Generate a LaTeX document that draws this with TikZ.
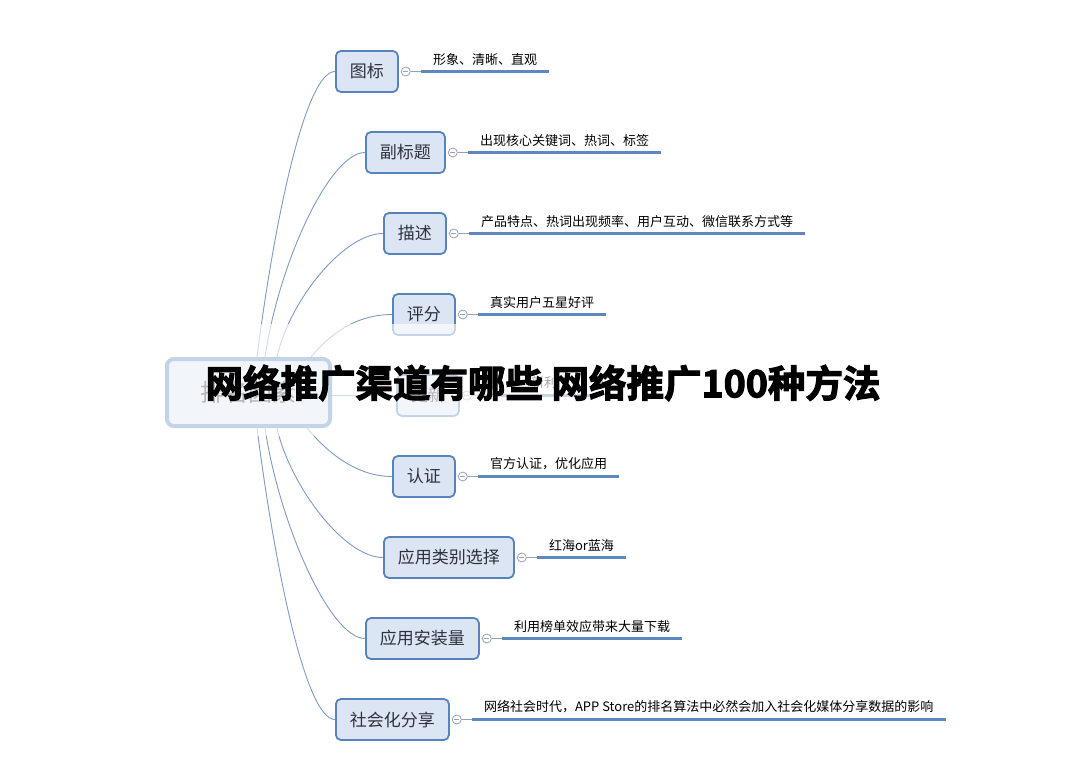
\documentclass[tikz,border=0pt]{standalone}
\usepackage{fontspec}
\setmainfont{Noto Sans CJK SC}
\newfontfamily\titlefont[FakeBold=3]{Noto Sans CJK SC Bold}
\definecolor{boxfill}{RGB}{219,229,243}
\definecolor{boxline}{RGB}{88,132,190}
\definecolor{branchc}{RGB}{125,155,195}
\definecolor{barc}{RGB}{92,136,190}
\definecolor{knobc}{RGB}{150,162,180}
\definecolor{ink}{RGB}{45,50,60}
\begin{document}
\begin{tikzpicture}[x=1pt,y=-1pt,
  topic/.style={draw=boxline, line width=1.8pt, fill=boxfill, rounded corners=5pt,
    minimum height=41pt, inner xsep=14pt, inner ysep=0pt,
    font=\fontsize{17}{17}\selectfont, text=ink, anchor=west},
  rootbox/.style={draw=boxline, line width=4pt, fill=boxfill, rounded corners=7pt,
    minimum width=163pt, minimum height=67pt, font=\fontsize{24}{24}\selectfont, text=ink},
  knob/.style={circle, draw=knobc, line width=0.8pt, fill=white, minimum size=9pt, inner sep=0pt,
    path picture={\draw[knobc, line width=0.8pt]
      ([xshift=-2.5pt]path picture bounding box.center) -- ([xshift=2.5pt]path picture bounding box.center);}},
  detail/.style={anchor=south west, inner xsep=12pt, inner ysep=6pt,
    font=\fontsize{13}{13}\selectfont, text=black},
  bar/.style={draw=barc, line width=3pt},
  branch/.style={draw=branchc, line width=0.9pt},
  stem/.style={draw=knobc, line width=0.8pt}]

\useasboundingbox (0,0) rectangle (1084,770);

% central topic
\node[rootbox] (root) at (248.5,392.5) {排名因素};

% main topics
\node[topic] (n1) at (335,71.5)  {图标};
\node[topic] (n2) at (365,152.5) {副标题};
\node[topic] (n3) at (383,233.5) {描述};
\node[topic] (n4) at (392,314.5) {评分};
\node[topic] (n5) at (396,395.5) {更新};
\node[topic] (n6) at (392,476.5) {认证};
\node[topic] (n7) at (383,557.5) {应用类别选择};
\node[topic] (n8) at (365,638.5) {应用安装量};
\node[topic] (n9) at (335,719.5) {社会化分享};

% branches from the central topic
\draw[branch] ([xshift=92pt]root.north west)  .. controls +(17,-133) and +(-30,0) .. (n1.west);
\draw[branch] ([xshift=100pt]root.north west) .. controls +(14,-95) and +(-35,0) .. (n2.west);
\draw[branch] ([xshift=112pt]root.north west) .. controls +(12,-55) and +(-40,0) .. (n3.west);
\draw[branch] ([xshift=146pt]root.north west) .. controls +(15,-18) and +(-40,0) .. (n4.west);
\draw[branch] (root.east |- n5.west) -- (n5.west);
\draw[branch] ([xshift=142pt]root.south west) .. controls +(15,18) and +(-40,0) .. (n6.west);
\draw[branch] ([xshift=112pt]root.south west) .. controls +(12,55) and +(-40,0) .. (n7.west);
\draw[branch] ([xshift=100pt]root.south west) .. controls +(14,95) and +(-35,0) .. (n8.west);
\draw[branch] ([xshift=92pt]root.south west)  .. controls +(17,133) and +(-30,0) .. (n9.west);

% collapse knobs and details
\foreach \i/\txt in {1/形象、清晰、直观,
                     2/出现核心关键词、热词、标签,
                     3/产品特点、热词出现频率、用户互动、微信联系方式等,
                     4/真实用户五星好评,
                     6/官方认证，优化应用,
                     7/红海or蓝海,
                     8/利用榜单效应带来大量下载,
                     9/网络社会时代，APP Store的排名算法中必然会加入社会化媒体分享数据的影响}{
  \node[knob] (k\i) at ([xshift=7pt]n\i.east) {};
  \node[detail] (d\i) at ([xshift=15pt]k\i.center) {\txt};
  \draw[stem] (k\i.east) -- (d\i.south west);
  \draw[bar] (d\i.south west) -- (d\i.south east);
}
\node[knob] (k5) at ([xshift=7pt]n5.east) {};
\node[detail, minimum width=117pt] (d5) at ([xshift=15pt]k5.center) {};
\node[font=\fontsize{13}{13}\selectfont] (d5t) at (544,383) {新利};
\draw[stem] (k5.east) -- (d5.south west);
\draw[bar] (d5.south west) -- (d5.south east);

% washed band behind the headline
\fill[white, opacity=0.65] (0,324) rectangle (1084,436);

% headline
\node[font=\titlefont\fontsize{37.5}{38}\selectfont, text=black] (title) at (543,383)
  {网络推广渠道有哪些 网络推广100种方法};
\end{tikzpicture}
\end{document}
